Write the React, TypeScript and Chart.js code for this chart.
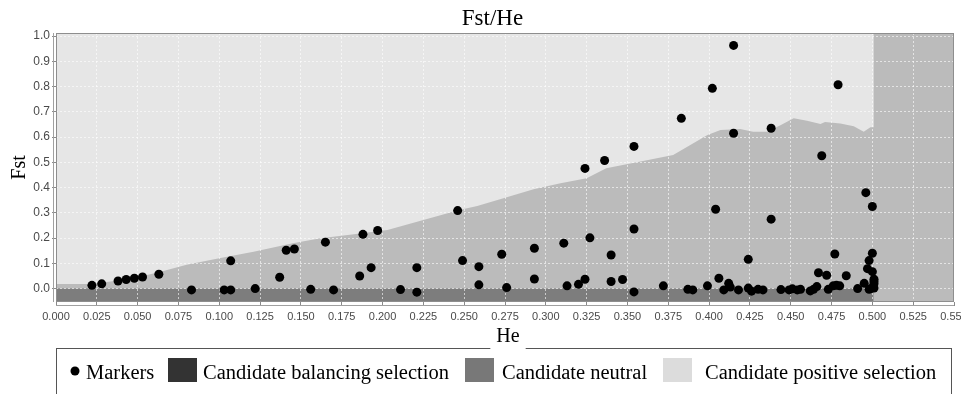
import React, { useEffect, useRef } from 'react';
import { Chart, registerables } from 'chart.js';

Chart.register(...registerables);

// ---------- text ----------
const TITLE = 'Fst/He';
const X_TITLE = 'He';
const Y_TITLE = 'Fst';
const LEGEND_LABELS = ['Markers', 'Candidate balancing selection', 'Candidate neutral', 'Candidate positive selection'];

// ---------- ticks ----------
const X_TICKS = [0, 0.025, 0.05, 0.075, 0.1, 0.125, 0.15, 0.175, 0.2, 0.225, 0.25, 0.275, 0.3, 0.325, 0.35, 0.375, 0.4, 0.425, 0.45, 0.475, 0.5, 0.525, 0.55];
const X_TICK_LABELS = ['0.000', '0.025', '0.050', '0.075', '0.100', '0.125', '0.150', '0.175', '0.200', '0.225', '0.250', '0.275', '0.300', '0.325', '0.350', '0.375', '0.400', '0.425', '0.450', '0.475', '0.500', '0.525', '0.550'];
const Y_TICKS = [0, 0.1, 0.2, 0.3, 0.4, 0.5, 0.6, 0.7, 0.8, 0.9, 1.0];
const Y_TICK_LABELS = ['0.0', '0.1', '0.2', '0.3', '0.4', '0.5', '0.6', '0.7', '0.8', '0.9', '1.0'];
const X_MIN = 0;
const X_MAX = 0.55;
const Y_MIN = -0.053;
const Y_MAX = 1.012;

// ---------- markers ----------
const MARKER_HE = [0.022, 0.028, 0.038, 0.043, 0.048, 0.053, 0.063, 0.083, 0.103, 0.107,
  0.107, 0.122, 0.137, 0.141, 0.146, 0.156, 0.165, 0.170, 0.186, 0.188,
  0.193, 0.197, 0.211, 0.221, 0.221, 0.246, 0.249, 0.259, 0.259, 0.273,
  0.276, 0.293, 0.293, 0.311, 0.313, 0.320, 0.324, 0.324, 0.327, 0.336,
  0.340, 0.340, 0.347, 0.354, 0.354, 0.354, 0.372, 0.383, 0.387, 0.390,
  0.399, 0.402, 0.404, 0.406, 0.409, 0.412, 0.413, 0.415, 0.415, 0.418,
  0.424, 0.424, 0.426, 0.430, 0.433, 0.438, 0.438, 0.444, 0.449, 0.451,
  0.454, 0.456, 0.462, 0.464, 0.466, 0.467, 0.469, 0.472, 0.473, 0.476,
  0.477, 0.478, 0.479, 0.480, 0.484, 0.491, 0.495, 0.496, 0.497, 0.498,
  0.498, 0.500, 0.500, 0.500, 0.501, 0.501, 0.501, 0.501, 0.499];
const MARKER_FST = [0.013, 0.019, 0.030, 0.036, 0.041, 0.046, 0.057, -0.005, -0.005, -0.005,
  0.110, 0.000, 0.045, 0.152, 0.157, -0.003, 0.184, -0.005, 0.050, 0.215,
  0.083, 0.230, -0.004, 0.083, -0.014, 0.309, 0.111, 0.087, 0.015, 0.136,
  0.004, 0.160, 0.038, 0.180, 0.011, 0.017, 0.476, 0.037, 0.201, 0.507,
  0.133, 0.028, 0.036, 0.563, 0.236, -0.013, 0.011, 0.674, -0.003, -0.005,
  0.011, 0.793, 0.314, 0.041, -0.005, 0.021, 0.006, 0.963, 0.615, -0.005,
  0.116, 0.002, -0.010, -0.003, -0.005, 0.635, 0.275, -0.004, -0.005, -0.001,
  -0.005, -0.003, -0.009, -0.003, 0.008, 0.063, 0.526, 0.053, -0.003, 0.011,
  0.137, 0.013, 0.807, 0.011, 0.051, 0.000, 0.021, 0.380, 0.079, 0.111,
  -0.003, 0.325, 0.140, 0.067, 0.037, 0.028, 0.019, 0.002, 0.000];

// ---------- region boundaries ----------
const NEUTRAL_UPPER_HE = [0, 0.021, 0.030, 0.040, 0.052, 0.064, 0.080, 0.100, 0.121, 0.145, 0.162, 0.180, 0.203, 0.225, 0.247, 0.258, 0.274, 0.2925, 0.309, 0.325, 0.337, 0.358, 0.378, 0.3885, 0.399, 0.407, 0.419, 0.427, 0.4355, 0.4437, 0.4518, 0.460, 0.4682, 0.471, 0.4804, 0.4886, 0.4947, 0.4988, 0.5008, 0.5008, 0.55];
const NEUTRAL_UPPER_FST = [0.018, 0.018, 0.025, 0.034, 0.048, 0.067, 0.094, 0.120, 0.146, 0.180, 0.199, 0.213, 0.232, 0.272, 0.311, 0.327, 0.358, 0.393, 0.417, 0.437, 0.477, 0.503, 0.529, 0.569, 0.608, 0.628, 0.632, 0.621, 0.621, 0.647, 0.674, 0.665, 0.652, 0.660, 0.654, 0.643, 0.621, 0.639, 0.639, 1.1, 1.1];
const BALANCING_UPPER_HE = [0, 0.5008];
const BALANCING_UPPER_FST = [0, 0];
const POSITIVE_UPPER_HE = [0, 0.55];
const POSITIVE_UPPER_FST = [1.1, 1.1];

// ---------- colours ----------
const POSITIVE_FILL = '#e6e6e6';
const NEUTRAL_FILL = '#bbbbbb';
const BALANCING_FILL = '#7d7d7d';
const LEGEND_SWATCHES = ['#000000', '#333333', '#787878', '#dcdcdc'];

const zip = (xs: number[], ys: number[]) => xs.map((x, i) => ({ x, y: ys[i] }));

const SERIF = '"Liberation Serif", "Times New Roman", serif';
const SANS = '"Liberation Sans", Arial, sans-serif';

const decorPlugin = {
  id: 'decor',
  afterDraw(chart: any) {
    const { ctx, chartArea: a } = chart;
    ctx.save();
    // plot outline
    ctx.strokeStyle = '#8e8e8e';
    ctx.lineWidth = 1;
    ctx.strokeRect(a.left + 0.5, a.top + 0.5, a.right - a.left - 1, a.bottom - a.top - 1);
    // axis lines (offset)
    ctx.strokeStyle = '#a0a0a0';
    ctx.beginPath();
    ctx.moveTo(a.left - 2.5, a.top);
    ctx.lineTo(a.left - 2.5, a.bottom);
    ctx.moveTo(a.left, a.bottom + 3.5);
    ctx.lineTo(a.right, a.bottom + 3.5);
    ctx.stroke();

    // title
    ctx.fillStyle = '#000';
    ctx.textBaseline = 'alphabetic';
    ctx.textAlign = 'center';
    ctx.font = `23px ${SERIF}`;
    ctx.fillText(TITLE, 492.5, 25);

    // y title
    ctx.save();
    ctx.translate(25, (a.top + a.bottom) / 2);
    ctx.rotate(-Math.PI / 2);
    ctx.font = `20px ${SERIF}`;
    ctx.fillText(Y_TITLE, 0, 0);
    ctx.restore();

    // legend box
    ctx.strokeStyle = '#555';
    ctx.lineWidth = 1;
    ctx.strokeRect(56.5, 348.5, 895, 80);

    // x title (over legend border)
    const xc = (a.left + a.right) / 2 + 3;
    ctx.font = `20px ${SERIF}`;
    const w = ctx.measureText(X_TITLE).width;
    ctx.fillStyle = '#fff';
    ctx.fillRect(xc - w / 2 - 6, 340, w + 12, 12);
    ctx.fillStyle = '#000';
    ctx.textAlign = 'center';
    ctx.fillText(X_TITLE, xc, 341.5);

    // legend items
    ctx.textAlign = 'left';
    ctx.font = `20.5px ${SERIF}`;
    ctx.fillStyle = LEGEND_SWATCHES[0];
    ctx.beginPath();
    ctx.arc(75, 371, 4.5, 0, Math.PI * 2);
    ctx.fill();
    ctx.fillStyle = '#000';
    ctx.fillText(LEGEND_LABELS[0], 86, 378.5);

    const swatchX = [168, 465, 663];
    const textX = [203, 502, 705];
    for (let i = 0; i < 3; i++) {
      ctx.fillStyle = LEGEND_SWATCHES[i + 1];
      ctx.fillRect(swatchX[i], 358, 29, 24);
      ctx.fillStyle = '#000';
      ctx.fillText(LEGEND_LABELS[i + 1], textX[i], 378.5);
    }
    ctx.restore();
  },
};

export default function App() {
  const ref = useRef<HTMLCanvasElement | null>(null);

  useEffect(() => {
    if (!ref.current) return;
    const chart = new Chart(ref.current, {
      type: 'scatter',
      data: {
        datasets: [
          {
            type: 'scatter',
            label: LEGEND_LABELS[0],
            data: zip(MARKER_HE, MARKER_FST),
            backgroundColor: '#000',
            borderWidth: 0,
            pointRadius: 4.5,
            pointHoverRadius: 4.5,
            order: 0,
          } as any,
          {
            type: 'line',
            label: LEGEND_LABELS[1],
            data: zip(BALANCING_UPPER_HE, BALANCING_UPPER_FST),
            backgroundColor: BALANCING_FILL,
            borderWidth: 0,
            pointRadius: 0,
            fill: 'start',
            tension: 0,
            order: 1,
          } as any,
          {
            type: 'line',
            label: LEGEND_LABELS[2],
            data: zip(NEUTRAL_UPPER_HE, NEUTRAL_UPPER_FST),
            backgroundColor: NEUTRAL_FILL,
            borderWidth: 0,
            pointRadius: 0,
            fill: 'start',
            tension: 0,
            order: 2,
          } as any,
          {
            type: 'line',
            label: LEGEND_LABELS[3],
            data: zip(POSITIVE_UPPER_HE, POSITIVE_UPPER_FST),
            backgroundColor: POSITIVE_FILL,
            borderWidth: 0,
            pointRadius: 0,
            fill: 'start',
            tension: 0,
            order: 3,
          } as any,
        ],
      },
      options: {
        animation: false,
        responsive: true,
        maintainAspectRatio: false,
        devicePixelRatio: 1,
        layout: { padding: { top: 33, right: 7, left: 0, bottom: 0 }, autoPadding: false } as any,
        plugins: {
          legend: { display: false },
          title: { display: false },
          tooltip: { enabled: false },
          filler: { drawTime: 'beforeDraw' } as any,
        },
        scales: {
          x: {
            type: 'linear',
            min: X_MIN,
            max: X_MAX,
            afterBuildTicks: (s: any) => { s.ticks = X_TICKS.map((v) => ({ value: v })); },
            afterFit: (s: any) => { s.height = 92; s.paddingLeft = 0; s.paddingRight = 0; },
            ticks: {
              autoSkip: false,
              maxRotation: 0,
              minRotation: 0,
              padding: 4,
              color: '#4a4a4a',
              font: { family: SANS, size: 11 },
              callback: (_v: any, i: number) => X_TICK_LABELS[i],
            },
            grid: {
              color: 'rgba(255,255,255,0.6)',
              lineWidth: 1,
              tickLength: 4,
              tickColor: '#8a8a8a',
            },
            border: { display: false, dash: [2, 2] },
          },
          y: {
            type: 'linear',
            min: Y_MIN,
            max: Y_MAX,
            afterBuildTicks: (s: any) => { s.ticks = Y_TICKS.map((v) => ({ value: v })); },
            afterFit: (s: any) => { s.width = 56; s.paddingTop = 0; s.paddingBottom = 0; },
            ticks: {
              autoSkip: false,
              padding: 2,
              color: '#4a4a4a',
              font: { family: SANS, size: 12 },
              callback: (_v: any, i: number) => Y_TICK_LABELS[i],
            },
            grid: {
              color: 'rgba(255,255,255,0.6)',
              lineWidth: 1,
              tickLength: 4,
              tickColor: '#8a8a8a',
            },
            border: { display: false, dash: [2, 2] },
          },
        },
      },
      plugins: [decorPlugin],
    });
    return () => chart.destroy();
  }, []);

  return (
    <div style={{ position: 'fixed', left: 0, top: 0, width: 961, height: 394, background: '#fff' }}>
      <canvas ref={ref} />
    </div>
  );
}
